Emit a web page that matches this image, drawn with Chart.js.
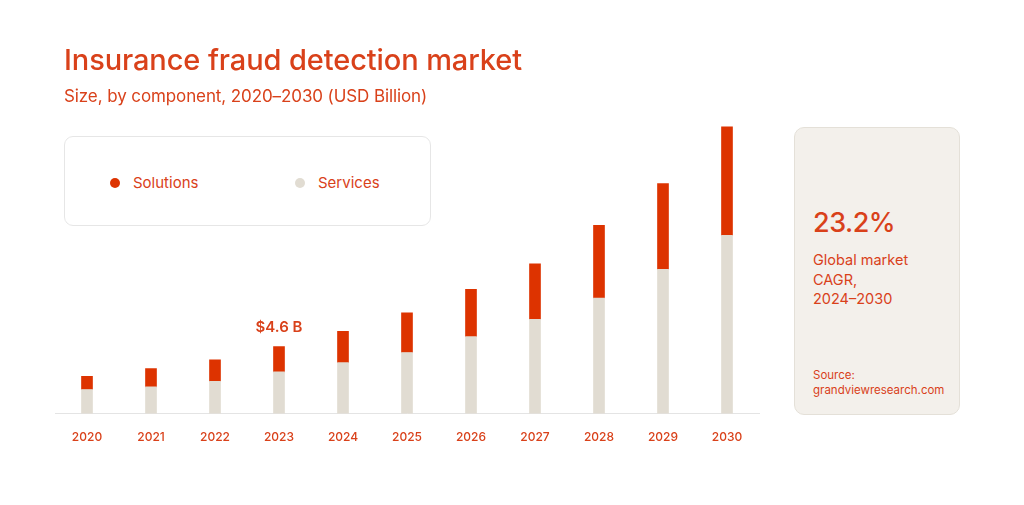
<!DOCTYPE html>
<html>
<head>
<meta charset="utf-8">
<script src="https://cdn.jsdelivr.net/npm/chart.js@4"></script>
<style>
  html, body { margin: 0; padding: 0; background: #fff; }
  body { width: 1024px; height: 505px; position: relative; overflow: hidden; font-family: Inter, "Noto Sans", sans-serif; color: #d9411a; }
  #wrap { position: absolute; left: 0; top: 0; width: 1024px; height: 505px; }
  .title { position: absolute; left: 64px; top: 42px; font-size: 29px; font-weight: 500; letter-spacing: -0.1px; white-space: nowrap; }
  .subtitle { position: absolute; left: 64px; top: 86px; font-size: 17px; font-weight: 400; letter-spacing: -0.1px; white-space: nowrap; }
  #legend { position: absolute; left: 64px; top: 136px; width: 367px; height: 90px; border: 1px solid #e6e6e6; border-radius: 9px; box-sizing: border-box; background: #fff; }
  #legend .item { position: absolute; top: 36px; display: flex; align-items: center; font-size: 15px; white-space: nowrap; }
  #legend .dot { width: 10px; height: 10px; border-radius: 50%; margin-right: 13px; }
  .panel { position: absolute; left: 794px; top: 127px; width: 166px; height: 288px; background: #f3f0eb; border: 1px solid #e4e0d8; border-radius: 10px; box-sizing: border-box; }
  .panel .big { position: absolute; left: 18px; top: 78px; font-size: 27px; font-weight: 500; letter-spacing: -0.5px; }
  .panel .desc { position: absolute; left: 18px; top: 122px; font-size: 14.5px; line-height: 19.5px; }
  .panel .src { position: absolute; left: 18px; top: 240px; font-size: 11.5px; line-height: 15px; }
</style>
</head>
<body>
<div id="wrap"><canvas id="myChart"></canvas></div>
<div class="title">Insurance fraud detection market</div>
<div class="subtitle">Size, by component, 2020–2030 (USD Billion)</div>
<div id="legend"></div>
<div class="panel">
  <div class="big">23.2%</div>
  <div class="desc">Global market<br>CAGR,<br>2024–2030</div>
  <div class="src">Source:<br>grandviewresearch.com</div>
</div>
<script>
const years = ['2020', '2021', '2022', '2023', '2024', '2025', '2026', '2027', '2028', '2029', '2030']
const services = [1.65, 1.83, 2.22, 2.86, 3.50, 4.19, 5.28, 6.47, 7.93, 9.90, 12.22]
const solutions = [0.91, 1.26, 1.46, 1.74, 2.15, 2.72, 3.25, 3.80, 4.99, 5.88, 7.45]
const calloutYear = '2023'
const calloutText = '$4.6 B'

const textColor = '#d9411a'
const solutionsColor = '#dd3300'
const servicesColor = '#e1dcd2'

// label above the 2023 bar
const callout = {
    id: 'callout',
    afterDatasetsDraw(chart) {
        const i = years.indexOf(calloutYear)
        const meta = chart.getDatasetMeta(1)
        const bar = meta.data[i]
        const ctx = chart.ctx
        ctx.save()
        ctx.font = '600 15px Inter'
        ctx.fillStyle = textColor
        ctx.textAlign = 'center'
        ctx.textBaseline = 'middle'
        ctx.fillText(calloutText, bar.x, bar.y - 19)
        ctx.restore()
    }
}

const data = {
    labels: years,
    datasets: [{
        label: 'Services',
        data: services,
        backgroundColor: servicesColor,
        barThickness: 11
    }, {
        label: 'Solutions',
        data: solutions,
        backgroundColor: solutionsColor,
        barThickness: 11
    }]
}

const config = {
    type: 'bar',
    data: data,
    options: {
        responsive: true,
        maintainAspectRatio: false,
        animation: false,
        layout: {
            padding: { left: 55, right: 265, top: 122, bottom: 43 }
        },
        plugins: {
            legend: { display: false },
            tooltip: { enabled: false }
        },
        scales: {
            x: {
                stacked: true,
                grid: { display: false, drawTicks: false },
                border: { display: true, color: '#e4e4e4', width: 1 },
                ticks: {
                    color: textColor,
                    padding: 17,
                    font: { family: 'Inter', size: 12, weight: 500 }
                }
            },
            y: {
                stacked: true,
                display: false,
                min: 0,
                max: 20
            }
        }
    },
    plugins: [callout]
}

const myChart = new Chart(document.getElementById('myChart'), config)

// html legend, Solutions first
const legendEl = document.getElementById('legend')
const lefts = [45, 230]
myChart.data.datasets.slice().reverse().forEach((ds, i) => {
    const item = document.createElement('div')
    item.className = 'item'
    item.style.left = lefts[i] + 'px'
    item.innerHTML = '<span class="dot" style="background:' + ds.backgroundColor + '"></span>' + ds.label
    legendEl.appendChild(item)
})
</script>
</body>
</html>
